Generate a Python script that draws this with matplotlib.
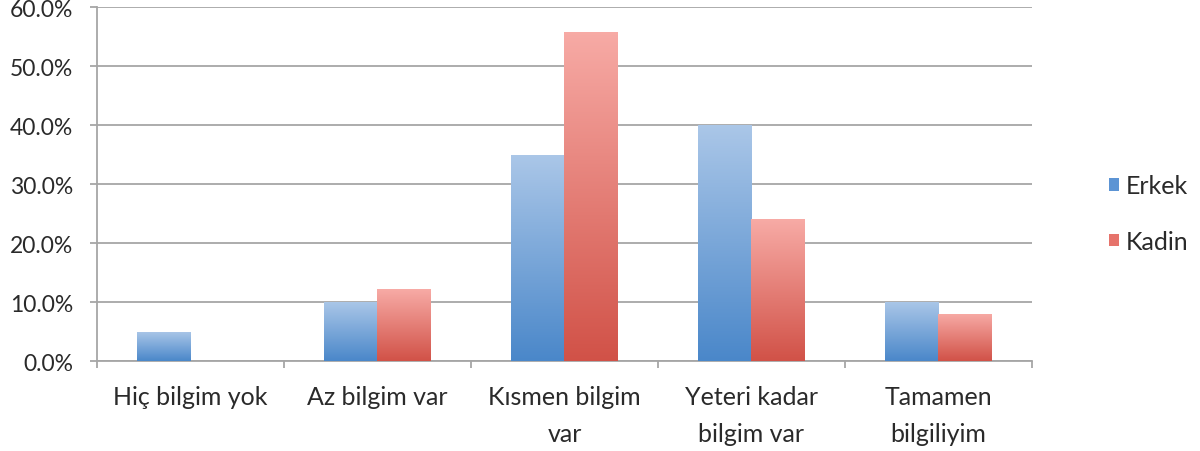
import matplotlib
matplotlib.use("Agg")
import matplotlib.pyplot as plt
import numpy as np
from matplotlib.colors import LinearSegmentedColormap
from matplotlib.ticker import FuncFormatter, FixedLocator, NullFormatter
from matplotlib.patches import Patch

categories = ["Hiç bilgim yok", "Az bilgim var", "Kısmen bilgim\nvar",
              "Yeteri kadar\nbilgim var", "Tamamen\nbilgiliyim"]
series_names = ["Erkek", "Kadin"]
erkek = [5.0, 10.0, 35.0, 40.0, 10.0]
kadin = [0.0, 12.2, 55.8, 24.0, 8.0]

plt.rcParams['font.family'] = ['Lato', 'DejaVu Sans']
text_color = "#2a2a2a"
grid_color = "#a6a6a6"
fs = 18

fig = plt.figure(figsize=(12, 4.52), dpi=100)
ax = fig.add_axes([0.0808, 0.199, 0.86 - 0.0808, 0.9823 - 0.199])

x = np.arange(len(categories))
w = 0.285
cmaps = [
    LinearSegmentedColormap.from_list("b", [(0.29, 0.53, 0.79), (0.67, 0.78, 0.91)]),
    LinearSegmentedColormap.from_list("r", [(0.82, 0.32, 0.28), (0.97, 0.67, 0.65)]),
]
legend_colors = [(0.36, 0.58, 0.83), (0.90, 0.45, 0.42)]
offsets = [-w / 2, w / 2]

grad = np.linspace(0, 1, 256).reshape(-1, 1)
for vals, cm, off in zip([erkek, kadin], cmaps, offsets):
    bars = ax.bar(x + off, vals, width=w, color="none", edgecolor="none", zorder=3)
    for b in bars:
        h = b.get_height()
        if h <= 0:
            continue
        x0 = b.get_x()
        im = ax.imshow(grad, cmap=cm, origin="lower", aspect="auto",
                       extent=[x0, x0 + b.get_width(), 0, h], zorder=3,
                       interpolation="bilinear")
        im.set_clip_path(b)

ax.set_xlim(-0.5, len(categories) - 0.5)
ax.set_ylim(0, 60)

ax.yaxis.set_major_locator(FixedLocator(np.arange(0, 61, 10)))
ax.yaxis.set_major_formatter(FuncFormatter(lambda v, p: f"{v:.1f}%"))
ax.grid(axis="y", color=grid_color, linewidth=1.3, zorder=1)
ax.set_axisbelow(True)

ax.xaxis.set_major_locator(FixedLocator(np.arange(-0.5, len(categories), 1.0)))
ax.xaxis.set_major_formatter(NullFormatter())
ax.xaxis.set_minor_locator(FixedLocator(x))
ax.set_xticklabels(categories, minor=True)
ax.tick_params(axis="x", which="minor", length=0, pad=17, labelsize=fs,
               labelcolor=text_color)
ax.tick_params(axis="x", which="major", length=5, color=grid_color, width=1.3)
ax.tick_params(axis="y", length=5, color=grid_color, width=1.3, labelsize=16.5,
               labelcolor=text_color, pad=12)
for lbl in ax.get_xticklabels(minor=True):
    lbl.set_linespacing(1.75)
    lbl.set_verticalalignment("top")

for s in ["top", "right"]:
    ax.spines[s].set_visible(False)
for s in ["left", "bottom"]:
    ax.spines[s].set_color(grid_color)
    ax.spines[s].set_linewidth(1.3)

handles = [Patch(facecolor=c, edgecolor="none") for c in legend_colors]
leg = fig.legend(handles, series_names, loc="center left",
                 bbox_to_anchor=(0.905, 0.525), frameon=False, fontsize=fs,
                 handlelength=0.4, handleheight=0.4, handletextpad=0.3,
                 labelspacing=1.3, labelcolor=text_color)

fig.savefig("out.png", dpi=100)
